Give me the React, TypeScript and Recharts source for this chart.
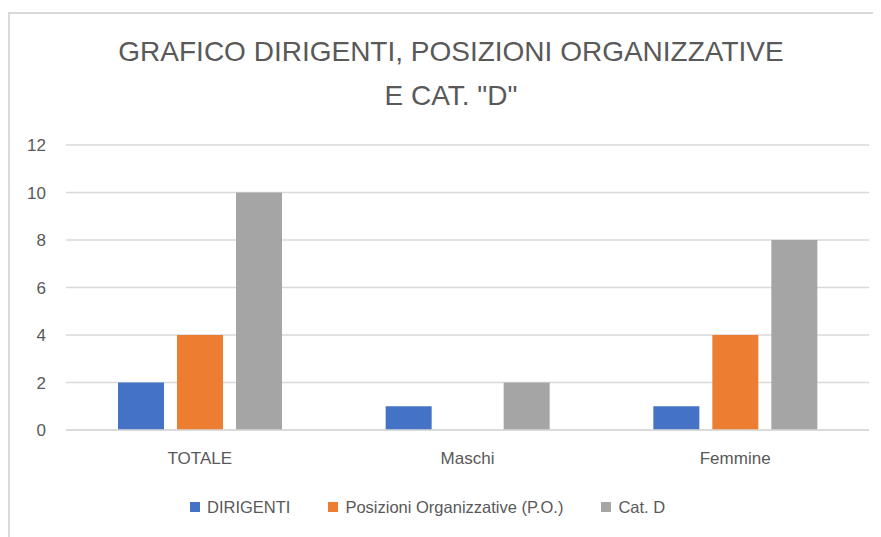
import React from "react";
import { BarChart, Bar, XAxis, YAxis, CartesianGrid, Legend } from "recharts";

const categories = ["TOTALE", "Maschi", "Femmine"];
const dirigenti = [2, 1, 1];
const posizioniOrg = [4, 0, 4];
const catD = [10, 2, 8];
const yTicks = [0, 2, 4, 6, 8, 10, 12];

const series = [
  { key: "dirigenti", name: "DIRIGENTI", color: "#4472C4" },
  { key: "po", name: "Posizioni Organizzative (P.O.)", color: "#ED7D31" },
  { key: "catD", name: "Cat. D", color: "#A5A5A5" },
];

const data = categories.map((c, i) => ({
  name: c,
  dirigenti: dirigenti[i],
  po: posizioniOrg[i],
  catD: catD[i],
}));

const FONT = '"Liberation Sans", Arial, sans-serif';
const TEXT = "#595959";

// legend keeps the series order (recharts would sort it by name)
const renderLegend = () => (
  <div style={{ display: "flex", alignItems: "center", paddingLeft: 182, height: 20 }}>
    {series.map((s) => (
      <div key={s.key} style={{ display: "flex", alignItems: "center", marginRight: 38 }}>
        <span style={{ width: 10, height: 10, background: s.color, display: "inline-block", marginRight: 7 }} />
        <span style={{ fontSize: 16.5, color: TEXT, fontFamily: FONT }}>{s.name}</span>
      </div>
    ))}
  </div>
);

export default function App() {
  return (
    <div style={{ position: "relative", width: 873, height: 529, fontFamily: FONT, background: "#fff", overflow: "hidden" }}>
      {/* frame of the chart area, only top and left edges visible */}
      <div
        style={{
          position: "absolute",
          left: 0,
          top: 4,
          width: 900,
          height: 600,
          borderTop: "2px solid #d9d9d9",
          borderLeft: "2px solid #d9d9d9",
          boxSizing: "border-box",
        }}
      />
      <div
        style={{
          position: "absolute",
          left: 0,
          top: 22,
          width: 873,
          paddingLeft: 13,
          boxSizing: "border-box",
          textAlign: "center",
          color: TEXT,
          fontSize: 28,
          lineHeight: "44px",
        }}
      >
        <div>GRAFICO DIRIGENTI, POSIZIONI ORGANIZZATIVE</div>
        <div>E CAT. "D"</div>
      </div>
      <div style={{ position: "absolute", left: 0, top: 0 }}>
        <BarChart
          width={873}
          height={529}
          data={data}
          margin={{ top: 137, right: 12, left: 18, bottom: 67 }}
          barGap={13}
          barSize={46}
        >
          <CartesianGrid vertical={false} stroke="#d9d9d9" strokeWidth={1.5} />
          <XAxis
            dataKey="name"
            height={40}
            axisLine={{ stroke: "#d9d9d9", strokeWidth: 1.5 }}
            tickLine={false}
            tickMargin={16}
            tick={{ fill: TEXT, fontSize: 17, fontFamily: FONT }}
          />
          <YAxis
            width={40}
            domain={[0, 12]}
            ticks={yTicks}
            axisLine={false}
            tickLine={false}
            tickMargin={14}
            tick={{ fill: TEXT, fontSize: 17, fontFamily: FONT }}
          />
          <Legend
            layout="horizontal"
            verticalAlign="middle"
            align="center"
            content={renderLegend}
            wrapperStyle={{ top: 489, left: 0, width: 873 }}
          />
          {series.map((s) => (
            <Bar key={s.key} dataKey={s.key} name={s.name} fill={s.color} isAnimationActive={false} />
          ))}
        </BarChart>
      </div>
    </div>
  );
}
